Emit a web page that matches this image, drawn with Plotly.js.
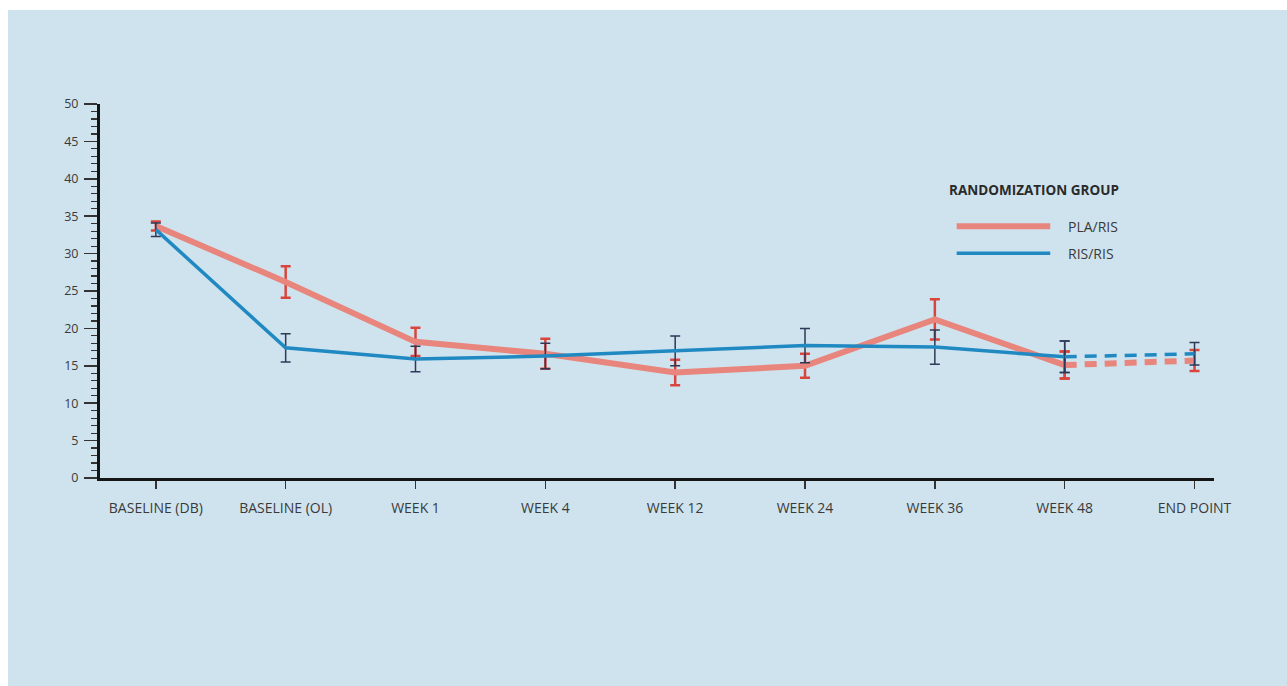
<!DOCTYPE html>
<html>
<head>
<meta charset="utf-8">
<script src="https://cdn.plot.ly/plotly-3.0.1.min.js"></script>
<style>
html,body{margin:0;padding:0;background:#ffffff;width:1287px;height:686px;overflow:hidden;}
#chart{position:absolute;left:8px;top:10px;width:1279px;height:676px;}
</style>
</head>
<body>
<div id="chart"></div>
<script>
const categories = ["BASELINE (DB)","BASELINE (OL)","WEEK 1","WEEK 4","WEEK 12","WEEK 24","WEEK 36","WEEK 48","END POINT"];
const plaValues = [33.7, 26.2, 18.2, 16.6, 14.1, 15.0, 21.2, 15.1, 15.7];
const plaErrors = [0.6, 2.1, 1.9, 2.0, 1.7, 1.6, 2.7, 1.8, 1.4];
const risValues = [33.2, 17.4, 15.9, 16.3, 17.0, 17.7, 17.5, 16.2, 16.6];
const risErrors = [0.9, 1.9, 1.7, 1.7, 2.0, 2.3, 2.3, 2.1, 1.5];
const yTicks = [0, 5, 10, 15, 20, 25, 30, 35, 40, 45, 50];
const legendTitle = "RANDOMIZATION GROUP";
const seriesNames = ["PLA/RIS", "RIS/RIS"];

const red = "#e8857c", redErr = "#d9453d";
const blue = "#2089c2", blueErr = "#2c3a58";
const solidN = 8;

function seg(vals, errs, from, to, color, width, errColor, errThick, dash, name) {
  return {
    type: "scatter", mode: "lines", name: name, showlegend: false, hoverinfo: "skip",
    x: categories.slice(from, to), y: vals.slice(from, to),
    line: {color: color, width: width, dash: dash},
    error_y: {type: "data", array: errs.slice(from, to), visible: true, color: errColor, thickness: errThick, width: 5}
  };
}

const traces = [
  seg(plaValues, plaErrors, 0, solidN, red, 6, redErr, 2.5, "solid", seriesNames[0]),
  seg(plaValues, plaErrors, solidN - 1, categories.length, red, 6, redErr, 2.5, "12px,8px", seriesNames[0]),
  seg(risValues, risErrors, 0, solidN, blue, 3.5, blueErr, 1.5, "solid", seriesNames[1]),
  seg(risValues, risErrors, solidN - 1, categories.length, blue, 3.5, blueErr, 1.5, "12px,8px", seriesNames[1])
];

const font = "'Open Sans', 'DejaVu Sans', sans-serif";
const layout = {
  width: 1279, height: 676,
  paper_bgcolor: "#cfe3ee", plot_bgcolor: "rgba(0,0,0,0)",
  margin: {l: 92, r: 73, t: 94, b: 208},
  showlegend: false,
  font: {family: font, size: 12, color: "#3a3a3a"},
  xaxis: {
    type: "category", range: [-0.43, 8.15], fixedrange: true,
    showline: true, linecolor: "#151515", linewidth: 3,
    ticks: "outside", ticklen: 8, tickwidth: 1.5, tickcolor: "#333",
    ticklabelstandoff: 7,
    showgrid: false, zeroline: false,
    tickfont: {family: font, size: 14, color: "#3a3a3a"}
  },
  yaxis: {
    range: [0, 50], fixedrange: true,
    tickvals: yTicks, ticktext: yTicks.map(String),
    showline: true, linecolor: "#151515", linewidth: 3,
    ticks: "outside", ticklen: 13, tickwidth: 1.5, tickcolor: "#333",
    ticklabelstandoff: 3,
    minor: {dtick: 1, ticks: "outside", ticklen: 6, tickwidth: 1.2, tickcolor: "#333", showgrid: false},
    showgrid: false, zeroline: false,
    tickfont: {family: font, size: 12.5, color: "#3a3a3a"}
  },
  shapes: [
    {type: "line", xref: "paper", yref: "paper", x0: 0.769, x1: 0.853, y0: 0.673, y1: 0.673, line: {color: red, width: 6}},
    {type: "line", xref: "paper", yref: "paper", x0: 0.769, x1: 0.853, y0: 0.601, y1: 0.601, line: {color: blue, width: 3.5}}
  ],
  annotations: [
    {xref: "paper", yref: "paper", x: 0.760, y: 0.770, xanchor: "left", yanchor: "middle", showarrow: false,
     text: "<b>" + legendTitle + "</b>", font: {family: font, size: 13.5, color: "#2a2a2a"}},
    {xref: "paper", yref: "paper", x: 0.867, y: 0.673, xanchor: "left", yanchor: "middle", showarrow: false,
     text: seriesNames[0], font: {family: font, size: 14, color: "#3a3a3a"}},
    {xref: "paper", yref: "paper", x: 0.867, y: 0.601, xanchor: "left", yanchor: "middle", showarrow: false,
     text: seriesNames[1], font: {family: font, size: 14, color: "#3a3a3a"}}
  ]
};

Plotly.newPlot("chart", traces, layout, {displayModeBar: false, staticPlot: true});
</script>
</body>
</html>
